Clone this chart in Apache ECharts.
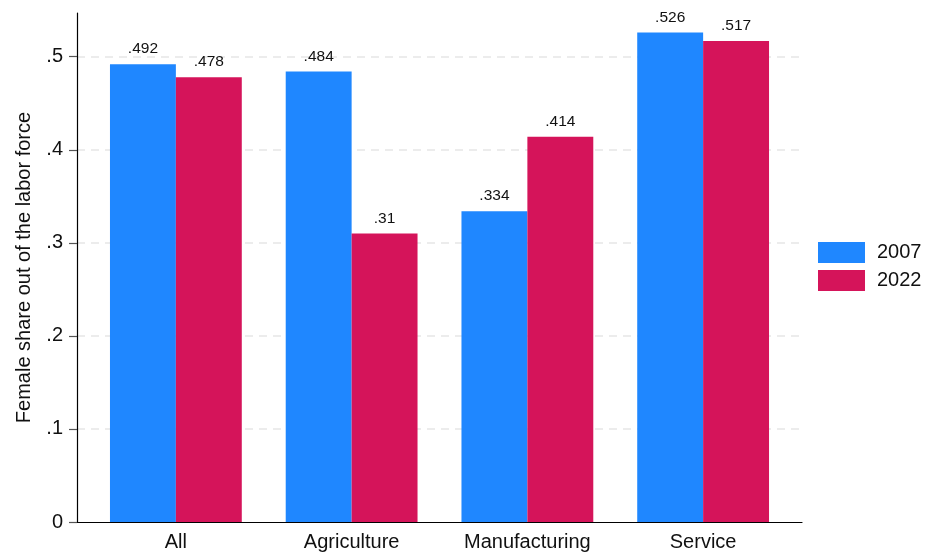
<!DOCTYPE html>
<html>
<head>
<meta charset="utf-8">
<script src="https://cdn.jsdelivr.net/npm/echarts@6/dist/echarts.min.js"></script>
<style>
  html, body { margin: 0; padding: 0; background: #fff; }
  #chart { width: 928px; height: 555px; }
</style>
</head>
<body>
<div id="chart"></div>
<script>
// 数据
const sectors = ['All', 'Agriculture', 'Manufacturing', 'Service'];
const share2007 = [0.492, 0.484, 0.334, 0.526];
const share2022 = [0.478, 0.31, 0.414, 0.517];
const yTicks = [0, 0.1, 0.2, 0.3, 0.4, 0.5];

const yMax = 0.547;
const font = 'Liberation Sans, Arial, Helvetica, sans-serif';

// 去掉前导 0，如 .5 / .492
const fmt = v => (v === 0 ? '0' : String(+v.toFixed(3)).replace(/^0\./, '.'));

const chart = echarts.init(document.getElementById('chart'), null, { renderer: 'canvas' });

const barLabel = {
  show: true,
  position: 'top',
  distance: 7,
  fontSize: 15.5,
  color: '#111',
  fontFamily: font,
  formatter: p => fmt(p.value)
};

const option = {
  animation: false,
  textStyle: { fontFamily: font },
  legend: {
    orient: 'vertical',
    left: 818,
    top: 242,
    padding: 0,
    itemWidth: 47,
    itemHeight: 21,
    itemGap: 7,
    icon: 'rect',
    textStyle: { fontSize: 20, lineHeight: 21, color: '#111', fontFamily: font, padding: [0, 0, 0, 7] },
    data: ['2007', '2022']
  },
  grid: [
    // 柱子所在网格
    { left: 88, right: 137, top: 13, bottom: 33 },
    // 外框：坐标轴和网格线
    { left: 77, right: 126, top: 13, bottom: 33 }
  ],
  xAxis: [
    {
      type: 'category',
      gridIndex: 0,
      data: sectors,
      axisLine: { show: false },
      axisTick: { show: false },
      axisLabel: { fontSize: 20, color: '#111', margin: 10, fontFamily: font }
    },
    {
      type: 'value',
      gridIndex: 1,
      min: 0,
      max: 1,
      axisLine: { show: true, lineStyle: { color: '#000', width: 1.2 } },
      axisTick: { show: false },
      axisLabel: { show: false },
      splitLine: { show: false }
    }
  ],
  yAxis: [
    {
      type: 'value',
      gridIndex: 0,
      min: 0,
      max: yMax,
      show: false,
      splitLine: { show: false }
    },
    {
      type: 'value',
      gridIndex: 1,
      min: 0,
      max: yMax,
      interval: 0.1,
      name: 'Female share out of the labor force',
      nameLocation: 'middle',
      nameGap: 43,
      nameTextStyle: { fontSize: 20, color: '#111', fontFamily: font },
      axisLine: { show: true, lineStyle: { color: '#000', width: 1.2 } },
      axisTick: { show: true, length: 8, lineStyle: { color: '#555', width: 1.2 } },
      axisLabel: {
        fontSize: 20,
        color: '#111',
        margin: 14,
        fontFamily: font,
        showMaxLabel: false,
        formatter: v => (yTicks.some(t => Math.abs(t - v) < 1e-6) ? fmt(v) : '')
      },
      splitLine: {
        show: true,
        showMinLine: false,
        showMaxLine: false,
        lineStyle: { color: '#e6e6e6', type: [8, 6], width: 1.5 }
      }
    }
  ],
  series: [
    {
      name: '2007',
      type: 'bar',
      xAxisIndex: 0,
      yAxisIndex: 0,
      data: share2007,
      barGap: '0%',
      barCategoryGap: '25%',
      itemStyle: { color: '#1f87ff' },
      label: barLabel
    },
    {
      name: '2022',
      type: 'bar',
      xAxisIndex: 0,
      yAxisIndex: 0,
      data: share2022,
      barGap: '0%',
      barCategoryGap: '25%',
      itemStyle: { color: '#d5145a' },
      label: barLabel
    }
  ]
};

chart.setOption(option);
</script>
</body>
</html>
